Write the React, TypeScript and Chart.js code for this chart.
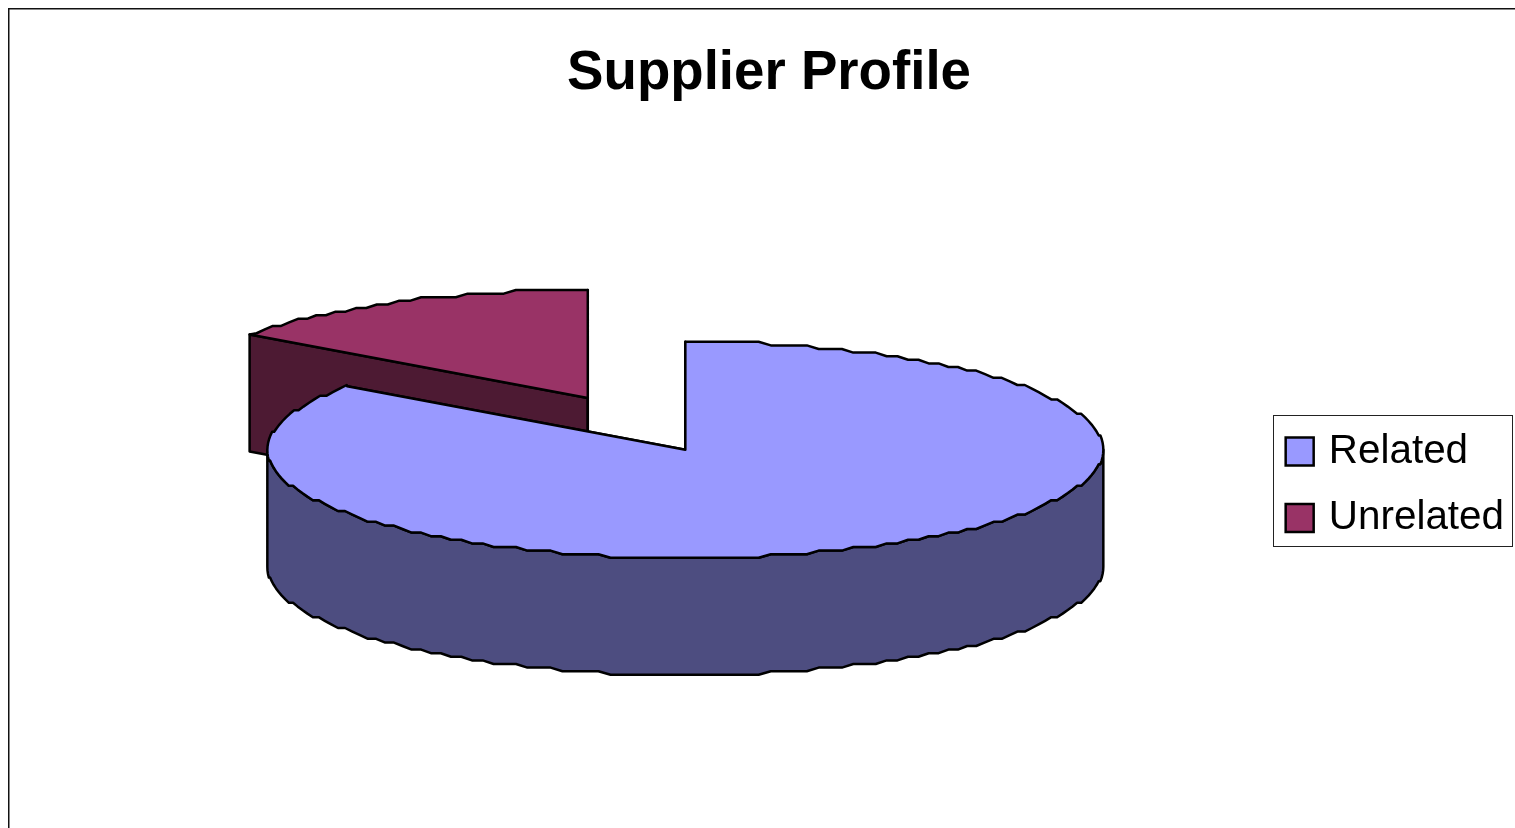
import React, { useEffect, useRef } from "react";
import { Chart, registerables } from "chart.js";

Chart.register(...registerables);

const categories = ["Related", "Unrelated"];
const values = [85, 15];
const topColors = ["#9999FF", "#993366"];
const sideColors = ["#4D4D80", "#4D1A33"];
const explode = [0, 142];

const TITLE = "Supplier Profile";
const RX = 418;
const RY = 108;
const EXPLODE_X = 407;
const EXPLODE_Y = 110;
const DEPTH = 117;
const DX = 41;
const DY = -35;
const GRID_Y = RY / 30;
const STEP = (1.7 * Math.PI) / 180;

type P = [number, number];

function rim(cx: number, cy: number, a0: number, a1: number, dy = 0): P[] {
  const pts: P[] = [[cx + Math.cos(a0) * RX, cy + Math.sin(a0) * RY + dy]];
  for (let k = Math.floor(a0 / STEP) + 1; k * STEP < a1; k++) {
    const a = k * STEP;
    pts.push([cx + Math.cos(a) * RX, cy + Math.round((Math.sin(a) * RY) / GRID_Y) * GRID_Y + dy]);
  }
  pts.push([cx + Math.cos(a1) * RX, cy + Math.sin(a1) * RY + dy]);
  return pts;
}

function poly(ctx: CanvasRenderingContext2D, pts: P[], fill: string) {
  ctx.beginPath();
  pts.forEach(([x, y], i) => (i ? ctx.lineTo(x, y) : ctx.moveTo(x, y)));
  ctx.closePath();
  ctx.fillStyle = fill;
  ctx.fill();
  ctx.stroke();
}

const extrudedPie = {
  id: "extrudedPie",
  beforeDraw(chart: any) {
    const ctx = chart.ctx;
    ctx.save();
    ctx.strokeStyle = "#111111";
    ctx.lineWidth = 1.5;
    ctx.strokeRect(8.75, 8.75, chart.width + 20, chart.height + 20);
    ctx.restore();
  },
  beforeDatasetsDraw(chart: any) {
    const ctx = chart.ctx;
    const arcs = chart.getDatasetMeta(0).data;
    ctx.save();
    ctx.lineWidth = 2.5;
    ctx.lineJoin = "round";
    ctx.strokeStyle = "#000000";
    for (let i = arcs.length - 1; i >= 0; i--) {
      const arc = arcs[i];
      const R = arc.outerRadius;
      const s = arc.startAngle;
      const e = arc.endAngle;
      const mid = (s + e) / 2;
      const o = arc.options.offset || 0;
      const cx = arc.x + DX + (Math.cos(mid) * o * EXPLODE_X) / R;
      const cy = arc.y + DY + (Math.sin(mid) * o * EXPLODE_Y) / R;
      const edgeS: P = [cx + Math.cos(s) * RX, cy + Math.sin(s) * RY];
      const edgeE: P = [cx + Math.cos(e) * RX, cy + Math.sin(e) * RY];
      const side = sideColors[i];
      // radial faces
      poly(ctx, [[cx, cy], edgeS, [edgeS[0], edgeS[1] + DEPTH], [cx, cy + DEPTH]], side);
      poly(ctx, [[cx, cy], edgeE, [edgeE[0], edgeE[1] + DEPTH], [cx, cy + DEPTH]], side);
      // front rim wall
      for (const k of [0, 2]) {
        const a0 = Math.max(s, k * Math.PI);
        const a1 = Math.min(e, (k + 1) * Math.PI);
        if (a1 > a0) {
          const upper = rim(cx, cy, a0, a1);
          const lower = rim(cx, cy, a0, a1, DEPTH).reverse();
          poly(ctx, [...upper, ...lower], side);
        }
      }
      // top face
      poly(ctx, [[cx, cy], ...rim(cx, cy, s, e)], topColors[i]);
    }
    ctx.restore();
    return false;
  },
  afterDraw(chart: any) {
    const legend = chart.legend;
    const hits = legend.legendHitBoxes;
    if (!hits || !hits.length) return;
    const ctx = chart.ctx;
    const top = hits[0].top - 16;
    const bottom = hits[hits.length - 1].top + hits[hits.length - 1].height + 8;
    ctx.save();
    ctx.strokeStyle = "#222222";
    ctx.lineWidth = 1;
    ctx.strokeRect(1273.5, Math.round(top) + 0.5, 239, Math.round(bottom - top));
    ctx.restore();
  },
};

export default function App() {
  const ref = useRef<HTMLCanvasElement>(null);
  useEffect(() => {
    const chart = new Chart(ref.current as HTMLCanvasElement, {
      type: "pie",
      data: {
        labels: categories,
        datasets: [
          {
            data: values,
            backgroundColor: topColors,
            borderColor: "#000000",
            borderWidth: 2.5,
            offset: explode,
          },
        ],
      },
      options: {
        responsive: false,
        animation: false,
        layout: { padding: { left: 24, right: 1, top: 0, bottom: 2 } },
        plugins: {
          title: {
            display: true,
            text: TITLE,
            color: "#000000",
            font: { family: "'Liberation Sans'", size: 54.67, weight: "bold" },
            padding: { top: 41, bottom: 37 },
          },
          legend: {
            display: true,
            position: "right",
            fullSize: false,
            labels: {
              usePointStyle: true,
              pointStyle: "rect",
              boxWidth: 18,
              boxHeight: 28,
              padding: 26,
              color: "#000000",
              font: { family: "'Liberation Sans'", size: 40.4 },
            },
          },
          tooltip: { enabled: false },
        },
      },
      plugins: [extrudedPie],
    } as any);
    return () => chart.destroy();
  }, []);
  return (
    <canvas
      ref={ref}
      width={1515}
      height={828}
      style={{ position: "fixed", left: 0, top: 0, width: 1515, height: 828, display: "block", background: "#ffffff" }}
    />
  );
}
